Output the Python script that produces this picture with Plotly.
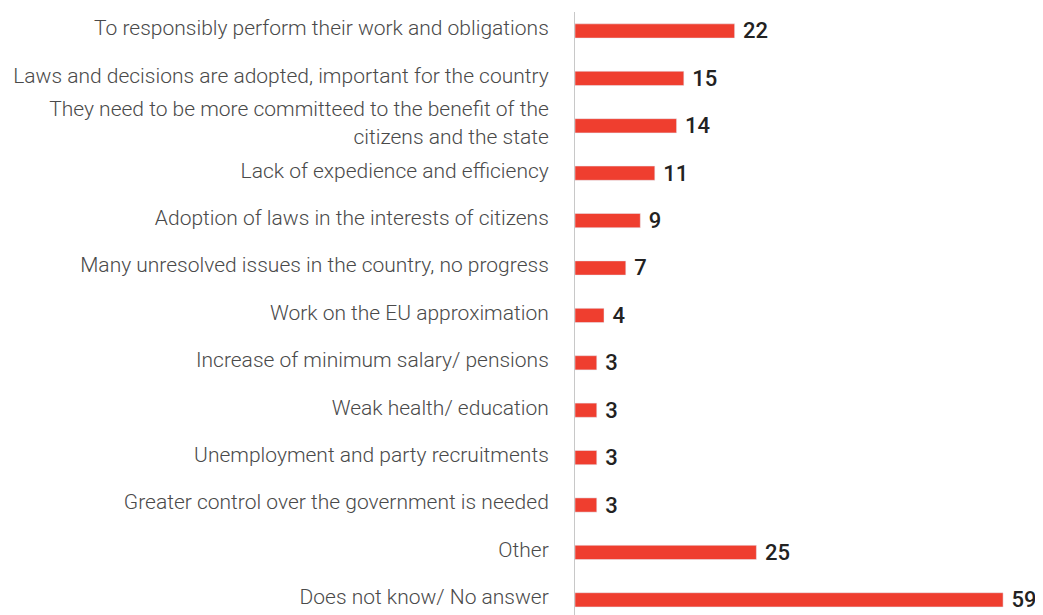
import plotly.graph_objects as go

categories = [
    "To responsibly perform their work and obligations",
    "Laws and decisions are adopted, important for the country",
    "They need to be more committeed to the benefit of the<br>citizens and the state",
    "Lack of expedience and efficiency",
    "Adoption of laws in the interests of citizens",
    "Many unresolved issues in the country, no progress",
    "Work on the EU approximation",
    "Increase of minimum salary/ pensions",
    "Weak health/ education",
    "Unemployment and party recruitments",
    "Greater control over the government is needed",
    "Other",
    "Does not know/ No answer",
]
values = [22, 15, 14, 11, 9, 7, 4, 3, 3, 3, 3, 25, 59]

fig = go.Figure(go.Bar(
    x=values,
    y=categories,
    orientation="h",
    marker=dict(color="#EF3E2F"),
    width=0.3,
    text=["\u00a0" + str(v) for v in values],
    textposition="outside",
    constraintext="none",
    cliponaxis=False,
    textfont=dict(family="Roboto", size=22, color="#222222", weight=500),
))

fig.update_layout(
    width=1035, height=607,
    margin=dict(l=567, r=0, t=4, b=0, autoexpand=False),
    paper_bgcolor="white", plot_bgcolor="white",
    showlegend=False,
    xaxis=dict(range=[0, 64.5], visible=False, showgrid=False, zeroline=False),
    yaxis=dict(
        range=[12.32, -0.4],
        automargin=False,
        showgrid=False, zeroline=False,
        showline=True, linecolor="#C8C8C8", linewidth=1,
        ticks="", ticklabelstandoff=21, ticklabelshift=3,
        tickfont=dict(family="Roboto Light, Roboto", size=21, color="#4a4a4a", weight=300),
    ),
)

fig.write_html("out.html")
